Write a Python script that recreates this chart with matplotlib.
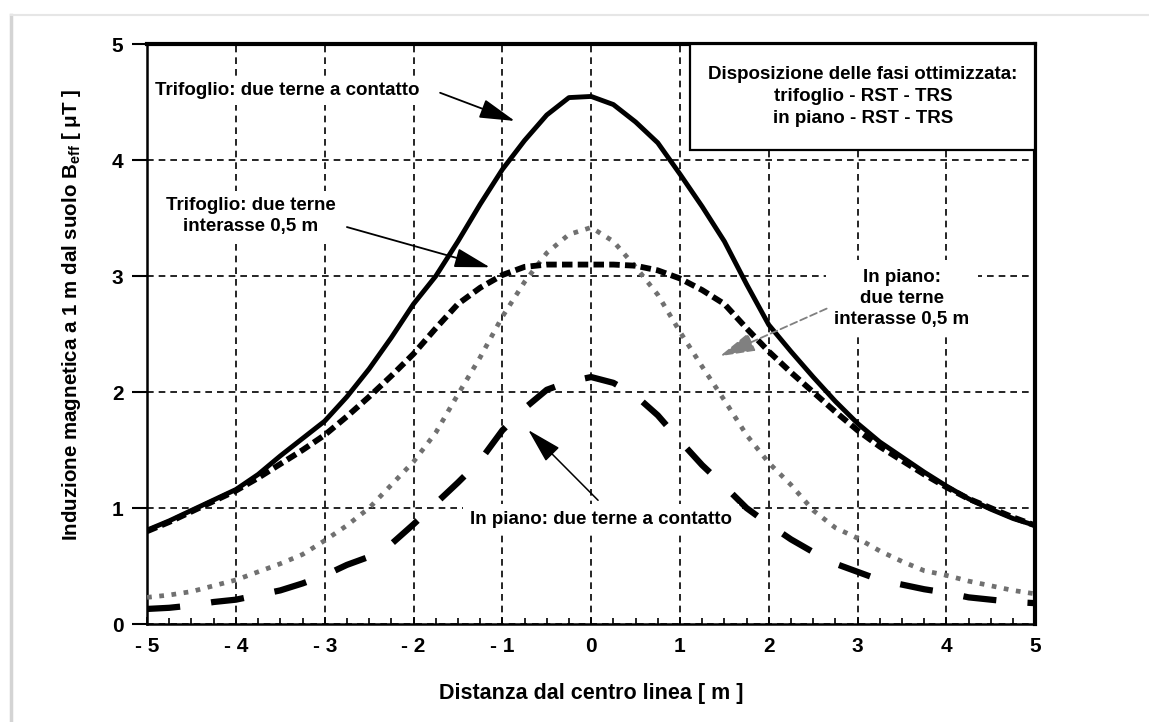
import numpy as np
import matplotlib
matplotlib.use('Agg')
import matplotlib.pyplot as plt
from matplotlib.patches import Rectangle
from matplotlib.lines import Line2D

# Distance from the line centre [m]
distanza = [-5, -4.75, -4.5, -4.25, -4, -3.75, -3.5, -3.25, -3, -2.75, -2.5,
            -2.25, -2, -1.75, -1.5, -1.25, -1, -0.75, -0.5, -0.25, 0,
            0.25, 0.5, 0.75, 1, 1.25, 1.5, 1.75, 2, 2.25, 2.5,
            2.75, 3, 3.25, 3.5, 3.75, 4, 4.25, 4.5, 4.75, 5]

# Trifoglio: due terne a contatto
trifoglio_contatto = [0.81, 0.89, 0.98, 1.07, 1.16, 1.29, 1.45, 1.60, 1.75, 1.96, 2.20,
                      2.47, 2.76, 3.00, 3.30, 3.62, 3.92, 4.17, 4.39, 4.54, 4.55,
                      4.48, 4.33, 4.15, 3.88, 3.60, 3.30, 2.93, 2.58, 2.35, 2.13,
                      1.92, 1.73, 1.57, 1.44, 1.31, 1.19, 1.08, 0.99, 0.91, 0.85]

# Trifoglio: due terne interasse 0,5 m
trifoglio_interasse = [0.80, 0.88, 0.97, 1.06, 1.15, 1.26, 1.38, 1.50, 1.63, 1.79, 1.96,
                       2.14, 2.33, 2.55, 2.76, 2.90, 3.01, 3.08, 3.10, 3.10, 3.10,
                       3.10, 3.09, 3.05, 2.98, 2.88, 2.76, 2.55, 2.35, 2.17, 2.00,
                       1.83, 1.67, 1.53, 1.41, 1.29, 1.18, 1.08, 1.00, 0.92, 0.85]

# In piano: due terne interasse 0,5 m
piano_interasse = [0.23, 0.25, 0.28, 0.33, 0.38, 0.45, 0.52, 0.60, 0.72, 0.85, 1.00,
                   1.20, 1.40, 1.65, 1.98, 2.30, 2.65, 2.95, 3.20, 3.36, 3.42,
                   3.30, 3.08, 2.84, 2.52, 2.22, 1.93, 1.63, 1.39, 1.20, 0.98,
                   0.83, 0.74, 0.63, 0.54, 0.46, 0.42, 0.37, 0.33, 0.29, 0.26]

# In piano: due terne a contatto
piano_contatto = [0.13, 0.14, 0.16, 0.19, 0.21, 0.25, 0.29, 0.35, 0.42, 0.51, 0.58,
                  0.69, 0.86, 1.04, 1.22, 1.41, 1.67, 1.86, 2.02, 2.09, 2.13,
                  2.08, 1.97, 1.80, 1.58, 1.37, 1.19, 1.00, 0.86, 0.73, 0.62,
                  0.52, 0.45, 0.38, 0.34, 0.30, 0.27, 0.23, 0.21, 0.19, 0.18]

x_ticks = [-5, -4, -3, -2, -1, 0, 1, 2, 3, 4, 5]
x_tick_labels = ['- 5', '- 4', '- 3', '- 2', '- 1', '0', '1', '2', '3', '4', '5']
y_ticks = [0, 1, 2, 3, 4, 5]

BOX_TEXT = 'Disposizione delle fasi ottimizzata:\ntrifoglio - RST - TRS\nin piano - RST - TRS'

plt.rcParams['font.family'] = ['Liberation Sans', 'DejaVu Sans']
plt.rcParams['mathtext.fontset'] = 'custom'
plt.rcParams['mathtext.rm'] = 'Liberation Sans'
plt.rcParams['mathtext.bf'] = 'Liberation Sans:bold'

TXT = 13.5


def draw_frame(fig):
    # light scan border round the page
    fig.add_artist(Line2D([0.010, 0.010], [0.0, 0.979], color='#d4d4d4', lw=2.5))
    fig.add_artist(Line2D([0.010, 1.0], [0.979, 0.979], color='#e6e6e6', lw=1.5))


def plot_chart():
    fig = plt.figure(figsize=(11.49, 7.22), dpi=100)
    draw_frame(fig)
    ax = fig.add_axes([0.128, 0.1357, 0.773, 0.803])

    ax.plot(distanza, trifoglio_contatto, color='black', lw=3.5, zorder=4)
    ax.plot(distanza, trifoglio_interasse, color='black', lw=4.2,
            linestyle=(0, (1.8, 0.9)), zorder=4)
    ax.plot(distanza, piano_interasse, color='#707070', lw=3.4,
            linestyle=(0, (1.0, 1.6)), zorder=3)
    ax.plot(distanza, piano_contatto, color='black', lw=4.5,
            linestyle=(0, (5.3, 5.0)), solid_capstyle='butt', zorder=4)

    ax.set_xlim(-5, 5)
    ax.set_ylim(0, 5)
    ax.set_xticks(x_ticks)
    ax.set_xticklabels(x_tick_labels)
    ax.set_xticks(np.arange(-5, 5.01, 0.25), minor=True)
    ax.set_yticks(y_ticks)
    ax.tick_params(axis='x', which='major', direction='in', length=5, width=1.2,
                   pad=9, labelsize=15)
    ax.tick_params(axis='x', which='minor', direction='in', length=4, width=1.2)
    ax.tick_params(axis='y', which='major', direction='out', length=11, width=1.5,
                   pad=6, labelsize=15)
    for lab in ax.get_xticklabels() + ax.get_yticklabels():
        lab.set_fontweight('bold')

    ax.grid(True, color='black', linestyle=(0, (4, 3)), lw=1.2, zorder=1)
    ax.set_axisbelow(True)

    ax.spines['top'].set_linewidth(3)
    ax.spines['right'].set_linewidth(3)
    ax.spines['left'].set_linewidth(1.8)
    ax.spines['bottom'].set_linewidth(1.8)

    ax.set_xlabel('Distanza dal centro linea [ m ]', fontsize=15.5, fontweight='bold',
                  labelpad=20)
    ax.set_ylabel(r'Induzione magnetica a 1 m dal suolo B$_\mathbf{eff}$ [ μT ]',
                  fontsize=14.8, fontweight='bold')
    ax.yaxis.set_label_coords(-0.072, 0.533)

    # option box in the upper right corner
    ax.add_patch(Rectangle((1.11, 4.09), 3.89, 0.91, facecolor='white',
                           edgecolor='black', lw=1.6, zorder=5))
    ax.text(3.06, 4.55, BOX_TEXT, ha='center', va='center', fontsize=TXT,
            fontweight='bold', linespacing=1.38, zorder=6)

    white = dict(facecolor='white', edgecolor='none', pad=4)
    head = '-|>,head_length=1.1,head_width=0.3'

    ax.text(-3.42, 4.60, 'Trifoglio: due terne a contatto', ha='center', va='center',
            fontsize=TXT, fontweight='bold', bbox=white, zorder=6)
    ax.annotate('', xy=(-0.83, 4.33), xytext=(-1.73, 4.59),
                arrowprops=dict(arrowstyle=head, color='black', lw=1.3,
                                mutation_scale=20), zorder=6)

    ax.text(-3.83, 3.52, 'Trifoglio: due terne\ninterasse 0,5 m', ha='center',
            va='center', fontsize=TXT, fontweight='bold', linespacing=1.3,
            bbox=white, zorder=6)
    ax.annotate('', xy=(-1.11, 3.07), xytext=(-2.78, 3.43),
                arrowprops=dict(arrowstyle=head, color='black', lw=1.3,
                                mutation_scale=20), zorder=6)

    ax.text(3.50, 2.81, 'In piano:\ndue terne\ninterasse 0,5 m', ha='center',
            va='center', fontsize=TXT, fontweight='bold', linespacing=1.32,
            bbox=dict(facecolor='white', edgecolor='none', pad=6), zorder=6)
    ax.annotate('', xy=(1.42, 2.30), xytext=(2.68, 2.73),
                arrowprops=dict(arrowstyle=head, color='#808080', lw=1.3,
                                linestyle=(0, (4, 2)), mutation_scale=20), zorder=6)

    ax.text(0.11, 0.90, 'In piano: due terne a contatto', ha='center', va='center',
            fontsize=TXT, fontweight='bold', bbox=dict(facecolor='white',
                                                      edgecolor='none', pad=5),
            zorder=6)
    ax.annotate('', xy=(-0.73, 1.69), xytext=(0.10, 1.05),
                arrowprops=dict(arrowstyle=head, color='black', lw=1.1,
                                mutation_scale=20), zorder=6)

    fig.savefig('out.png', dpi=100, facecolor='white')


def main():
    plot_chart()


if __name__ == "__main__":
    main()
